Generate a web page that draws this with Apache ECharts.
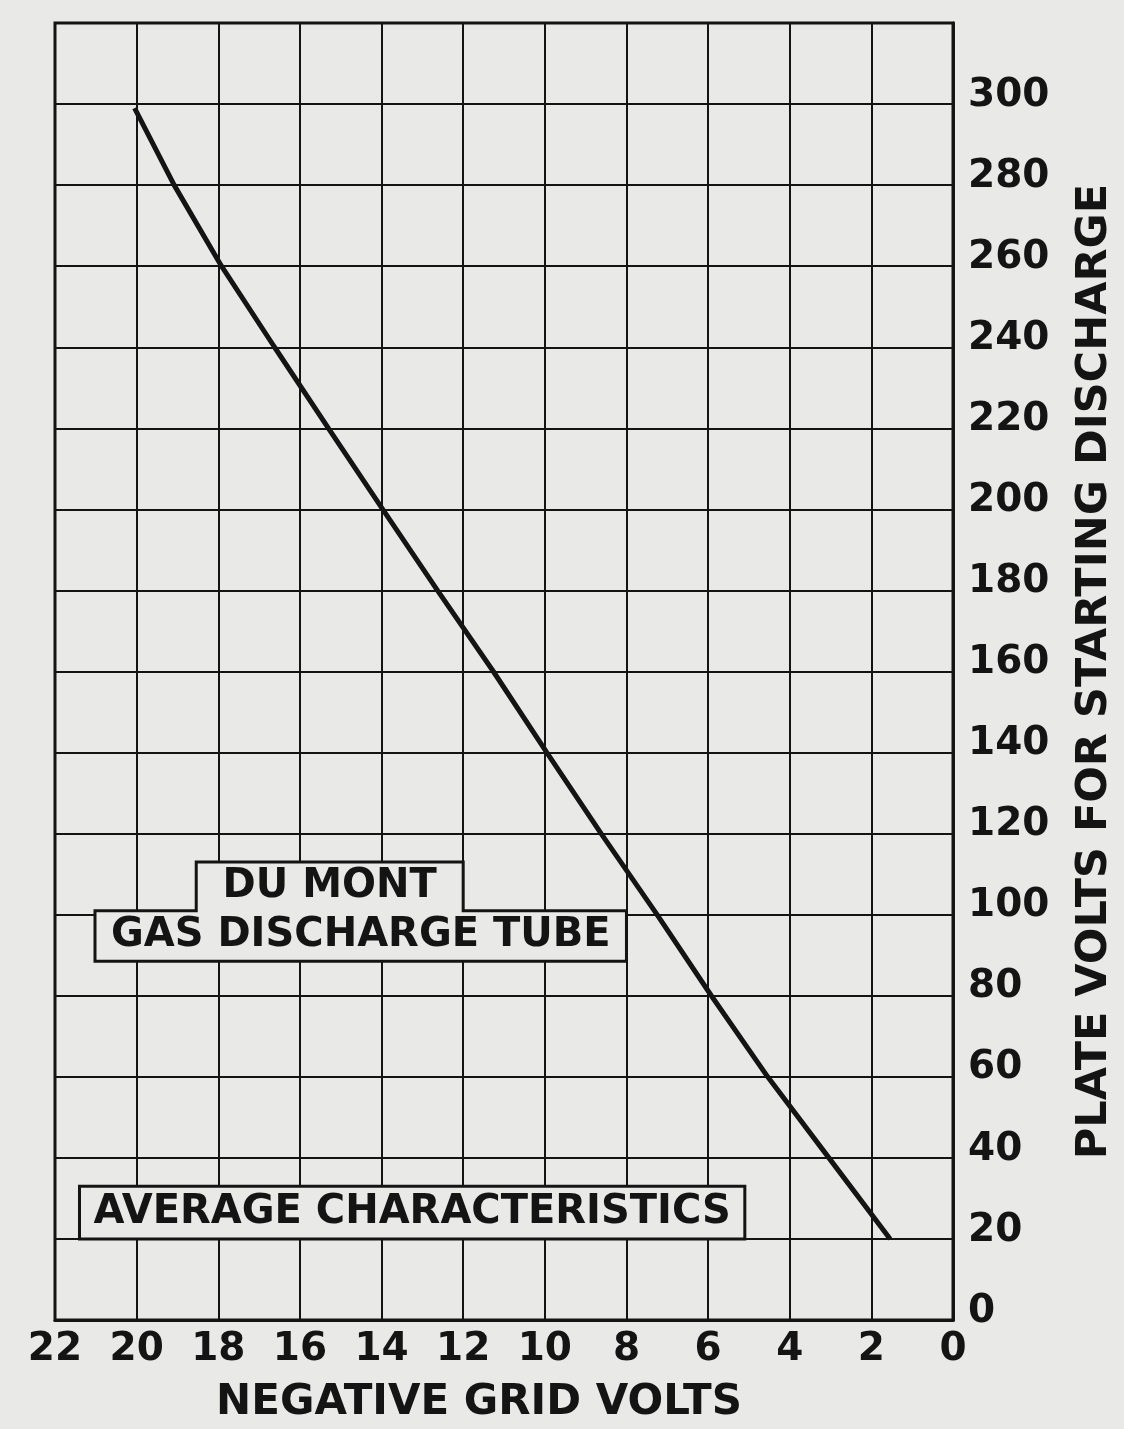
<!DOCTYPE html>
<html>
<head>
<meta charset="utf-8">
<title>Du Mont Gas Discharge Tube - Average Characteristics</title>
<script src="https://cdn.jsdelivr.net/npm/echarts@6/dist/echarts.min.js"></script>
<style>
  html, body { margin: 0; padding: 0; background: #e9e9e8; }
  #chart { width: 1124px; height: 1429px; }
</style>
</head>
<body>
<div id="chart"></div>
<script>
// Starting characteristic: negative grid volts vs plate volts needed to start discharge
const gridVolts  = [20.05, 19.08, 17.92, 16.62, 15.3, 13.97, 12.63, 11.26, 9.95, 8.62, 7.25, 5.92, 4.54, 3.04, 1.54];
const plateVolts = [299, 280, 260, 240, 220, 200, 180, 160, 140, 120, 100, 80, 60, 40, 20];

// Tick labels printed along each axis
const gridTickLabels  = [0, 2, 4, 6, 8, 10, 12, 14, 16, 18, 20, 22];
const plateTickLabels = [0, 20, 40, 60, 80, 100, 120, 140, 160, 180, 200, 220, 240, 260, 280, 300];

// Label texts in the boxed captions
const titleLines = ['DU MONT', 'GAS DISCHARGE TUBE'];
const subtitleText = 'AVERAGE CHARACTERISTICS';

const INK = '#141414';
const PAPER = '#e9e9e8';
const FONT = 'DejaVu Sans';

// Caption boxes, outlined in axis units so they sit on the grid
const captionBoxes = [
  { // stepped box: tab on top holding "DU MONT", wide box below
    outline: [[21.02, 88.5], [21.02, 101], [18.54, 101], [18.54, 113], [12.0, 113], [12.0, 101], [8.0, 101], [8.0, 88.5]],
    texts: [
      { text: titleLines[0], at: [(18.54 + 12.0) / 2, (101 + 113) / 2] },
      { text: titleLines[1], at: [(21.02 + 8.0) / 2, (88.5 + 101) / 2] }
    ]
  },
  {
    outline: [[21.4, 20], [21.4, 33], [5.1, 33], [5.1, 20]],
    texts: [
      { text: subtitleText, at: [(21.4 + 5.1) / 2, (20 + 33) / 2] }
    ]
  }
];

const curve = gridVolts.map((v, i) => [v, plateVolts[i]]);

const chart = echarts.init(document.getElementById('chart'), null, { renderer: 'canvas' });

chart.setOption({
  backgroundColor: PAPER,
  animation: false,
  grid: {
    left: 55, right: 167, top: 23, bottom: 108,
    show: true, borderColor: INK, borderWidth: 3, backgroundColor: 'transparent'
  },
  xAxis: {
    type: 'value', min: 0, max: 22, interval: 2, inverse: true,
    name: 'NEGATIVE GRID VOLTS', nameLocation: 'middle', nameGap: 62,
    nameTextStyle: { color: INK, fontFamily: FONT, fontWeight: 'bold', fontSize: 42, padding: [0, 50, 0, 0] },
    axisLine: { show: true, lineStyle: { color: INK, width: 3 } },
    axisTick: { show: false },
    splitLine: { show: true, lineStyle: { color: INK, width: 2 } },
    axisLabel: {
      color: INK, fontFamily: FONT, fontWeight: 'bold', fontSize: 39, margin: 10,
      formatter: v => gridTickLabels.includes(v) ? String(v) : ''
    }
  },
  yAxis: {
    type: 'value', min: 0, max: 320, interval: 20, position: 'right',
    name: 'PLATE VOLTS FOR STARTING DISCHARGE', nameLocation: 'middle', nameRotate: 90, nameGap: 120,
    nameTextStyle: { color: INK, fontFamily: FONT, fontWeight: 'bold', fontSize: 43 },
    axisLine: { show: true, lineStyle: { color: INK, width: 3 } },
    axisTick: { show: false },
    splitLine: { show: true, lineStyle: { color: INK, width: 2 } },
    axisLabel: {
      color: INK, fontFamily: FONT, fontWeight: 'bold', fontSize: 39, margin: 15,
      verticalAlign: 'bottom', lineHeight: 17,
      formatter: v => plateTickLabels.includes(v) ? String(v) : ''
    }
  },
  series: [
    {
      type: 'custom',
      silent: true,
      data: captionBoxes.map((b, i) => i),
      renderItem: (params, api) => {
        const box = captionBoxes[params.dataIndex];
        const pts = box.outline.map(p => api.coord(p));
        const children = [{
          type: 'polygon',
          shape: { points: pts },
          style: { fill: PAPER, stroke: INK, lineWidth: 3 }
        }];
        box.texts.forEach(t => {
          const c = api.coord(t.at);
          children.push({
            type: 'text',
            x: c[0], y: c[1],
            style: {
              text: t.text, fill: INK, font: 'bold 40px "' + FONT + '"',
              align: 'center', verticalAlign: 'middle'
            }
          });
        });
        return { type: 'group', children };
      },
      z: 3
    },
    {
      type: 'line',
      data: curve,
      showSymbol: false,
      symbol: 'none',
      lineStyle: { color: INK, width: 5, cap: 'butt' },
      z: 4
    }
  ]
});
</script>
</body>
</html>
